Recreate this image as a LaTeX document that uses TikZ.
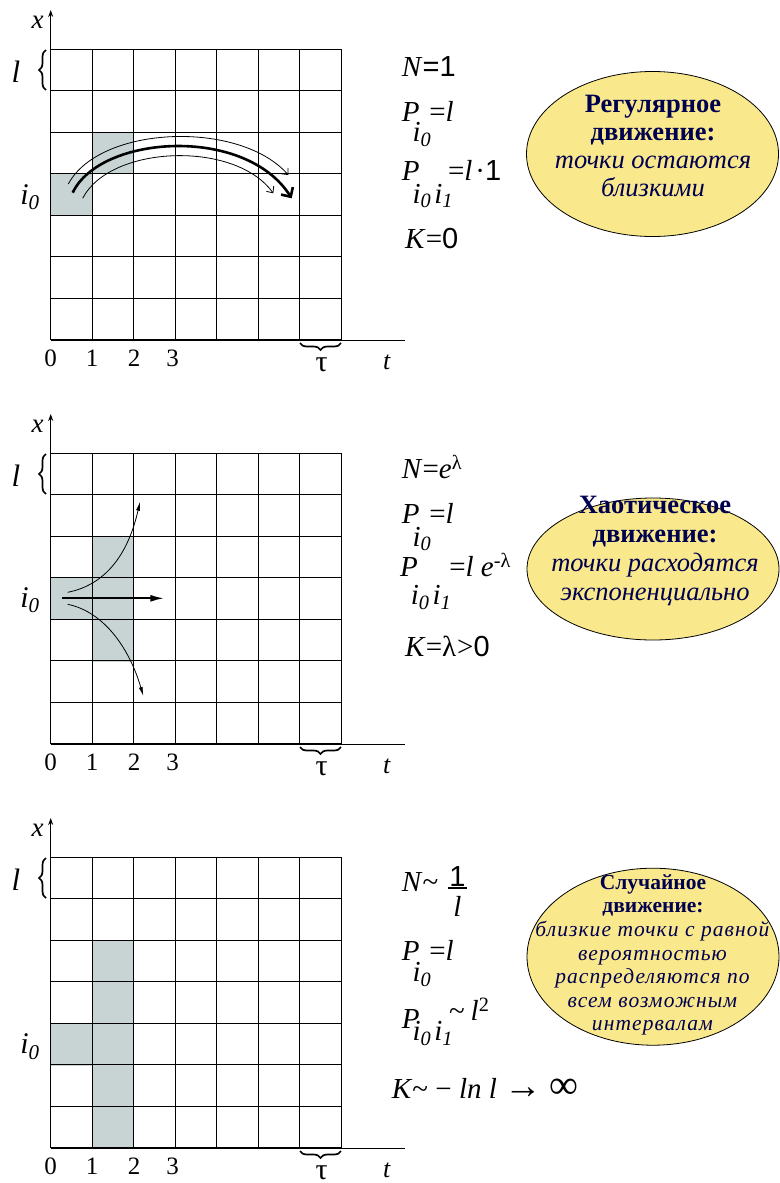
\documentclass[tikz,border=0pt]{standalone}
\usepackage{fontspec}
\setmainfont{Liberation Serif}
\newfontfamily\arial{Liberation Sans}
\usetikzlibrary{arrows.meta, decorations.pathreplacing, shapes.geometric}

\definecolor{cellfill}{RGB}{200,212,212}
\definecolor{bubblefill}{RGB}{250,233,140}
\definecolor{navy}{RGB}{0,0,80}

\newcommand{\fs}[2]{\fontsize{#1}{#2}\selectfont}
\newcommand{\idx}[1]{\textit{i}\textsubscript{\textit{#1}}}

\tikzset{
  gridline/.style={line width=1.3pt},
  axisline/.style={line width=0.9pt},
  cell/.style={fill=cellfill},
  formula/.style={anchor=base west, inner sep=0pt, font=\fs{29}{32}},
  lbl/.style={inner sep=0pt, font=\fs{25}{28}},
  bubble/.style={ellipse, draw, line width=0.8pt, fill=bubblefill, inner sep=0pt},
  bubbletext/.style={align=center, text=navy, inner sep=0pt},
  brc/.style={decorate, decoration={brace, amplitude=7pt}, line width=1.7pt}
}

\begin{document}
\begin{tikzpicture}[x=1pt, y=-1pt]
  \useasboundingbox (0,0) rectangle (779,1183);

  % shaded cells
  \fill[cell] (50.7,174.3) rectangle (92,216);
  \fill[cell] (92,132.7) rectangle (133.7,174.3);
  \fill[cell] (50.7,578.3) rectangle (92,620);
  \fill[cell] (92,536.7) rectangle (133.7,661.7);
  \fill[cell] (50.7,1024) rectangle (92,1065.7);
  \fill[cell] (92,940.7) rectangle (133.7,1149);

  % grids, axes and labels
  \foreach \p/\iy in {0/197, 1/196, 2/238.7}{
    \begin{scope}[shift={(0,404*\p)}]
      \foreach \i in {0,...,7}{
        \draw[gridline] (50.7+41.5*\i,49.3) -- (50.7+41.5*\i,340);
        \draw[gridline] (50.7,49.3+41.5*\i) -- (341,49.3+41.5*\i);
      }
      \draw[axisline, -{Stealth[length=7pt, width=5pt]}] (50.7,340) -- (50.7,10);
      \draw[axisline] (50.7,340) -- (405,340);
      \node[lbl, font=\fs{27}{30}] (x\p) at (37.7,22) {\textit{x}};
      \node[lbl, font=\fs{26}{30}] (t\p) at (387,362) {\textit{t}};
      \node[lbl, font=\fs{31}{34}] (l\p) at (16,72) {\textit{l}};
      \draw[brc] (46,90) -- (46,50);
      \node[lbl, font=\fs{30}{34}] (i\p) at (30,\iy) {\idx{0}};
      \foreach \k/\kx in {0/50.7, 1/92, 2/134, 3/172.7}
        \node[lbl] (tick\p\k) at (\kx,358) {\k};
      \draw[brc] (341,343) -- (300,343);
      \node[lbl, font=\fs{30}{34}] (tau\p) at (321.7,364.5) {τ};
    \end{scope}
  }

  % regular motion
  \coordinate (ra) at (68.3,184);   \coordinate (rb) at (288.3,175);
  \coordinate (rc) at (72.7,192.7); \coordinate (rd) at (291.7,198.3);
  \coordinate (re) at (82.7,198.3); \coordinate (rf) at (273.3,193.3);
  \draw[line width=0.8pt, -{Straight Barb[length=5pt, width=9pt]}] (ra) .. controls (100,125) and (240,120) .. (rb);
  \draw[line width=2.6pt, -{Straight Barb[length=7pt, width=14pt]}] (rc) .. controls (100,135) and (245,125) .. (rd);
  \draw[line width=0.8pt, -{Straight Barb[length=5pt, width=9pt]}] (re) .. controls (110,145) and (235,140) .. (rf);

  % chaotic motion
  \coordinate (ca) at (62.3,598.3);  \coordinate (cb) at (164.3,598.3);
  \coordinate (cc) at (67.7,592.3);  \coordinate (cd) at (140,501.7);
  \coordinate (ce) at (67.7,604.3);  \coordinate (cf) at (143.3,696);
  \draw[line width=2pt, -{Latex[length=14pt, width=7pt]}] (ca) -- (cb);
  \draw[line width=0.8pt, -{Latex[length=9pt, width=4pt]}] (cc) .. controls (105,585) and (128,555) .. (cd);
  \draw[line width=0.8pt, -{Latex[length=9pt, width=4pt]}] (ce) .. controls (105,612) and (130,650) .. (cf);

  % formulas
  \node[formula] (n1) at (401.7,76.7) {\textit{N}{\arial =1}};
  \node[formula] (p1) at (401.7,121.7) {\textit{P}\kern-7pt\raisebox{-20pt}{\idx{0}}\kern-2pt=\textit{l}};
  \node[formula] (q1) at (401.7,180) {\textit{P}\kern-7pt\raisebox{-23pt}{\idx{0}\kern3pt\idx{1}}\kern-5pt=\textit{l}\kern3pt·{\arial 1}};
  \node[formula] (k1) at (405,248.3) {\textit{K}={\arial 0}};

  \node[formula] (n2) at (401.7,478.3) {\textit{N}=\textit{e}\textsuperscript{λ}};
  \node[formula] (p2) at (401.7,523.3) {\textit{P}\kern-7pt\raisebox{-22.7pt}{\idx{0}}\kern-2pt=\textit{l}};
  \node[formula] (q2) at (400,576.7) {\textit{P}\kern-7pt\raisebox{-28pt}{\idx{0}\kern3pt\idx{1}}\kern-2pt=\textit{l} \textit{e}\textsuperscript{-λ}};
  \node[formula] (k2) at (405,656.7) {\textit{K}=λ\kern1pt>{\arial 0}};

  \node[formula] (n3) at (401.7,891.7) {\textit{N}\textasciitilde};
  \node[formula, anchor=base] (f3a) at (457.5,886) {\arial 1};
  \node[fill, minimum width=19, minimum height=1.8, inner sep=0pt] (f3b) at (457.5,888) {};
  \node[formula, anchor=base] (f3c) at (457.5,916.7) {\textit{l}};
  \node[formula] (p3) at (401.7,960) {\textit{P}\kern-7pt\raisebox{-21.7pt}{\idx{0}}\kern-2pt=\textit{l}};
  \node[formula] (q3) at (401.7,1028.3) {\textit{P}\kern-7pt\raisebox{-12pt}{\idx{0}\kern3pt\idx{1}}\kern-4pt\raisebox{8pt}{\textasciitilde\kern6pt\textit{l}\textsuperscript{2}}};
  \node[formula] (k3) at (391.7,1098.3) {\textit{K}\textasciitilde\ −\ \textit{ln l}\ \scalebox{1.3}{→}\ \scalebox{1.4}{∞}};

  % bubbles
  \node[bubble, minimum width=252, minimum height=165] (e1) at (652.5,154) {};
  \node[bubbletext, font=\fs{26.5}{28.3}] (b1) at (653,146) {\textbf{Регулярное}\\ \textbf{движение:}\\ \textit{точки остаются}\\ \textit{близкими}};
  \node[bubble, minimum width=252, minimum height=142] (e2) at (653,569) {};
  \node[bubbletext, font=\fs{26.5}{29.3}] (b2) at (655,551) {\textbf{Хаотическое}\\ \textbf{движение:}\\ \textit{точки расходятся}\\ \textit{экспоненциально}};
  \node[bubble, minimum width=252, minimum height=177] (e3) at (653,956.7) {};
  \node[bubbletext, font=\fs{21.5}{23.6}] (b3) at (653,955) {\textbf{Случайное}\\ \textbf{движение:}\\ \addfontfeatures{LetterSpace=5}\textit{близкие точки с равной}\\ \addfontfeatures{LetterSpace=5}\textit{вероятностью}\\ \addfontfeatures{LetterSpace=5}\textit{распределяются по}\\ \addfontfeatures{LetterSpace=5}\textit{всем возможным}\\ \addfontfeatures{LetterSpace=5}\textit{интервалам}};
\end{tikzpicture}
\end{document}
